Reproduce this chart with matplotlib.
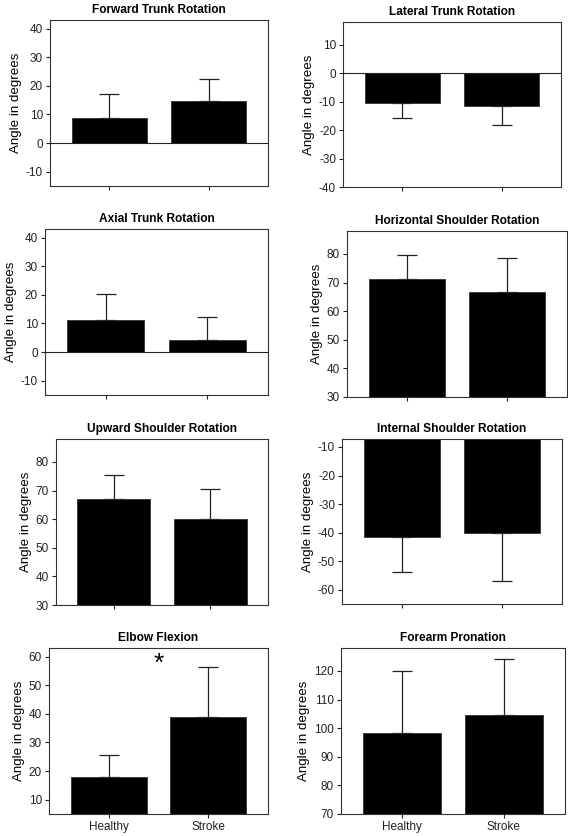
import numpy as np
import matplotlib
matplotlib.use("Agg")
import matplotlib.pyplot as plt

plt.rcParams['font.family'] = ['Liberation Sans', 'DejaVu Sans']
plt.rcParams['axes.unicode_minus'] = False

groups = ["Healthy", "Stroke"]

titles = [
    "Forward Trunk Rotation", "Lateral Trunk Rotation",
    "Axial Trunk Rotation", "Horizontal Shoulder Rotation",
    "Upward Shoulder Rotation", "Internal Shoulder Rotation",
    "Elbow Flexion", "Forearm Pronation",
]

# means (healthy, stroke) and SDs
means = [
    [8.8, 14.7],
    [-10.3, -11.4],
    [11.3, 4.1],
    [71.4, 66.6],
    [67.0, 60.2],
    [-41.4, -40.1],
    [17.9, 38.8],
    [98.4, 104.7],
]
sds = [
    [8.5, 7.6],
    [5.3, 6.8],
    [9.1, 8.0],
    [8.2, 11.9],
    [8.3, 10.2],
    [12.3, 16.9],
    [7.7, 17.4],
    [21.5, 19.5],
]

ylims = [(-15, 43), (-40, 18), (-15, 43), (30, 88),
         (30, 88), (-65, -7.2), (5, 63), (70, 128)]
yticks = [
    [-10, 0, 10, 20, 30, 40],
    [-40, -30, -20, -10, 0, 10],
    [-10, 0, 10, 20, 30, 40],
    [30, 40, 50, 60, 70, 80],
    [30, 40, 50, 60, 70, 80],
    [-60, -50, -40, -30, -20, -10],
    [10, 20, 30, 40, 50, 60],
    [70, 80, 90, 100, 110, 120],
]

# axes boxes in pixels: left, top, right, bottom
boxes = [
    (50, 20, 268, 186), (343, 22, 561, 187),
    (45, 229, 268, 395), (347, 231, 567, 397),
    (56, 439, 268, 605), (342, 439, 562, 604),
    (49, 648, 268, 814), (341, 648, 565, 814),
]

W, H = 568, 836
fig = plt.figure(figsize=(W / 100, H / 100), dpi=100)
x = np.arange(len(groups))
edge = '#333333'

for i in range(8):
    l, t, r, b = boxes[i]
    ax = fig.add_axes([l / W, 1 - b / H, (r - l) / W, (b - t) / H])
    m = np.array(means[i])
    s = np.array(sds[i])
    ax.bar(x, m, width=0.76, color='black', edgecolor=edge, linewidth=0.6, zorder=2)
    lower = np.where(m < 0, s, 0)
    upper = np.where(m >= 0, s, 0)
    ax.errorbar(x, m, yerr=[lower, upper], fmt='none', ecolor='#222222',
                elinewidth=0.9, capsize=7.5, capthick=0.9, zorder=1)
    lo, hi = ylims[i]
    if lo < 0 < hi:
        ax.axhline(0, color='#222222', linewidth=0.8, zorder=3)
    ax.set_ylim(lo, hi)
    ax.set_xlim(-0.6, 1.6)
    ax.set_yticks(yticks[i])
    ax.set_xticks(x)
    if i >= 6:
        ax.set_xticklabels(groups, fontsize=9.5)
    else:
        ax.set_xticklabels([])
    ax.tick_params(axis='both', direction='out', length=3, width=0.8,
                   colors='#222222', labelsize=8.5, pad=2)
    for sp in ax.spines.values():
        sp.set_color(edge)
        sp.set_linewidth(0.8)
    ax.set_ylabel("Angle in degrees", fontsize=9.6, labelpad=3)
    ax.set_title(titles[i], fontsize=8.6, fontweight='bold', pad=5)
    if titles[i] == "Elbow Flexion":
        ax.text(0.5, 57.5, "*", ha='center', va='center', fontsize=19)

fig.savefig("out.png", dpi=100)
